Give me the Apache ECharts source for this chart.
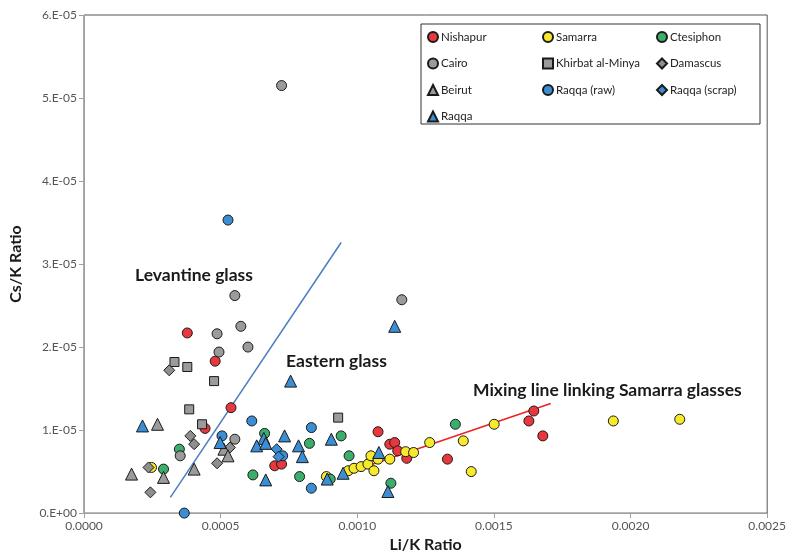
<!DOCTYPE html>
<html><head><meta charset="utf-8">
<script src="https://cdn.jsdelivr.net/npm/echarts@6/dist/echarts.min.js"></script>
<style>html,body{margin:0;padding:0;background:#fff}#c{width:789px;height:558px}</style>
</head><body><div id="c"></div>
<script>
// ---- data (x = Li/K ratio, y = Cs/K ratio) ----
const nishapur = [[0.000378,2.17e-5],[0.000480,1.83e-5],[0.000443,1.02e-5],[0.000538,1.27e-5],[0.000698,0.57e-5],[0.000723,0.59e-5],[0.001076,0.98e-5],[0.001119,0.83e-5],[0.001137,0.85e-5],[0.001148,0.75e-5],[0.001181,0.66e-5],[0.001330,0.65e-5],[0.001646,1.23e-5],[0.001628,1.11e-5],[0.001679,0.93e-5]];
const samarra = [[0.000247,0.55e-5],[0.000887,0.44e-5],[0.000967,0.51e-5],[0.000988,0.54e-5],[0.001014,0.56e-5],[0.001039,0.59e-5],[0.001061,0.51e-5],[0.001050,0.69e-5],[0.001076,0.65e-5],[0.001119,0.65e-5],[0.001177,0.74e-5],[0.001206,0.73e-5],[0.001265,0.85e-5],[0.001388,0.87e-5],[0.001417,0.50e-5],[0.001501,1.07e-5],[0.001937,1.11e-5],[0.002180,1.13e-5]];
const ctesiphon = [[0.000349,0.77e-5],[0.000291,0.53e-5],[0.000661,0.96e-5],[0.000618,0.46e-5],[0.000789,0.44e-5],[0.000825,0.84e-5],[0.000941,0.93e-5],[0.000901,0.41e-5],[0.000970,0.69e-5],[0.001123,0.36e-5],[0.001359,1.07e-5]];
const cairo = [[0.000723,5.15e-5],[0.000552,2.62e-5],[0.001163,2.57e-5],[0.000574,2.25e-5],[0.000487,2.16e-5],[0.000600,2.00e-5],[0.000494,1.94e-5],[0.000552,0.89e-5],[0.000352,0.69e-5]];
const khirbat = [[0.000331,1.82e-5],[0.000378,1.76e-5],[0.000476,1.59e-5],[0.000385,1.25e-5],[0.000432,1.07e-5],[0.000930,1.15e-5]];
const damascus = [[0.000312,1.72e-5],[0.000389,0.93e-5],[0.000403,0.83e-5],[0.000487,0.60e-5],[0.000236,0.55e-5],[0.000243,0.25e-5],[0.000534,0.79e-5]];
const beirut = [[0.000269,1.07e-5],[0.000174,0.47e-5],[0.000291,0.43e-5],[0.000403,0.53e-5],[0.000512,0.77e-5],[0.000527,0.69e-5]];
const raqqaRaw = [[0.000527,3.53e-5],[0.000367,0.00e-5],[0.000505,0.93e-5],[0.000614,1.11e-5],[0.000727,0.69e-5],[0.000832,1.03e-5],[0.000832,0.30e-5]];
const raqqaScrap = [[0.000705,0.77e-5],[0.000712,0.68e-5]];
const raqqa = [[0.000756,1.59e-5],[0.001137,2.25e-5],[0.000214,1.05e-5],[0.000498,0.85e-5],[0.000658,0.90e-5],[0.000632,0.81e-5],[0.000665,0.84e-5],[0.000734,0.93e-5],[0.000785,0.81e-5],[0.000799,0.68e-5],[0.000905,0.89e-5],[0.000665,0.40e-5],[0.000890,0.41e-5],[0.000948,0.48e-5],[0.001079,0.73e-5],[0.001112,0.26e-5]];
const levantineLine = [[0.000316,0.19e-5],[0.000941,3.26e-5]];
const mixingLine = [[0.000967,0.49e-5],[0.001708,1.32e-5]];
const xTickLabels = ['0.0000','0.0005','0.0010','0.0015','0.0020','0.0025'];
const yTickLabels = ['0.E+00','1.E-05','2.E-05','3.E-05','4.E-05','5.E-05','6.E-05'];

const chart = echarts.init(document.getElementById('c'));
const FONT = 'Lato';
function sc(name, data, symbol, size, color) {
  return { name, type: 'scatter', data, symbol, symbolSize: size,
    itemStyle: { color, borderColor: '#1a1a1a', borderWidth: 1, opacity: 1 },
    emphasis: { disabled: true } };
}
function ln(data, color) {
  return { type: 'line', data, symbol: 'none', silent: true,
    lineStyle: { color, width: 1.5 }, z: 1 };
}
const legendBase = { orient: 'vertical', padding: 0, itemWidth: 10, itemHeight: 10, itemGap: 14.5,
  textStyle: { fontFamily: FONT, fontSize: 11.5, color: '#222', padding: [0,0,0,-2] }, selectedMode: false };
chart.setOption({
  animation: false,
  grid: { left: 80, right: 21, top: 15, bottom: 42, show: true, borderColor: '#555', borderWidth: 1 },
  xAxis: { type: 'value', min: 0, max: 0.0025, interval: 0.0005,
    name: 'Li/K Ratio', nameLocation: 'middle', nameGap: 20,
    nameTextStyle: { fontFamily: FONT, fontSize: 16, fontWeight: 'bold', color: '#1a1a1a' },
    axisLine: { lineStyle: { color: '#a0a0a0' } },
    axisTick: { show: true, inside: false, length: 5, lineStyle: { color: '#a0a0a0' } },
    splitLine: { show: false },
    axisLabel: { fontFamily: FONT, fontSize: 12, color: '#555', margin: 7,
      formatter: (v, i) => xTickLabels[i] } },
  yAxis: { type: 'value', min: 0, max: 6e-5, interval: 1e-5,
    name: 'Cs/K Ratio', nameLocation: 'middle', nameGap: 60, nameRotate: 90,
    nameTextStyle: { fontFamily: FONT, fontSize: 16, fontWeight: 'bold', color: '#1a1a1a' },
    axisLine: { show: true, lineStyle: { color: '#a0a0a0' } },
    axisTick: { show: true, inside: false, length: 5, lineStyle: { color: '#a0a0a0' } },
    splitLine: { show: false },
    axisLabel: { fontFamily: FONT, fontSize: 12, color: '#555', margin: 7,
      formatter: (v, i) => yTickLabels[i] } },
  legend: [
    Object.assign({}, legendBase, { left: 427, top: 31, data: ['Nishapur','Cairo','Beirut','Raqqa'] }),
    Object.assign({}, legendBase, { left: 542, top: 31, data: ['Samarra','Khirbat al-Minya','Raqqa (raw)'] }),
    Object.assign({}, legendBase, { left: 656, top: 31, data: ['Ctesiphon','Damascus','Raqqa (scrap)'] })
  ],
  graphic: [
    { type: 'rect', shape: { x: 421, y: 24, width: 339, height: 100 }, style: { fill: '#fff', stroke: '#333', lineWidth: 1 }, z: 0, silent: true },
    { type: 'text', left: 135, top: 266, style: { text: 'Levantine glass', font: 'bold 17.5px ' + FONT, fill: '#1a1a1a' }, z: 10 },
    { type: 'text', left: 286, top: 352, style: { text: 'Eastern glass', font: 'bold 17.5px ' + FONT, fill: '#1a1a1a' }, z: 10 },
    { type: 'text', left: 473, top: 381, style: { text: 'Mixing line linking Samarra glasses', font: 'bold 17.5px ' + FONT, fill: '#1a1a1a' }, z: 10 }
  ],
  series: [
    ln(levantineLine, '#4a7ebf'),
    ln(mixingLine, '#ee2222'),
    sc('Nishapur', nishapur, 'circle', 10, '#e8383d'),
    sc('Samarra', samarra, 'circle', 10, '#f7ea2a'),
    sc('Ctesiphon', ctesiphon, 'circle', 10, '#3aae6a'),
    sc('Cairo', cairo, 'circle', 10, '#9b9b9b'),
    sc('Khirbat al-Minya', khirbat, 'rect', 9, '#9b9b9b'),
    sc('Damascus', damascus, 'diamond', 11, '#8f8f8f'),
    sc('Beirut', beirut, 'triangle', 12, '#9b9b9b'),
    sc('Raqqa (raw)', raqqaRaw, 'circle', 10, '#3b8ed3'),
    sc('Raqqa (scrap)', raqqaScrap, 'diamond', 11, '#3b8ed3'),
    sc('Raqqa', raqqa, 'triangle', 12, '#3b8ed3')
  ]
});
</script></body></html>
